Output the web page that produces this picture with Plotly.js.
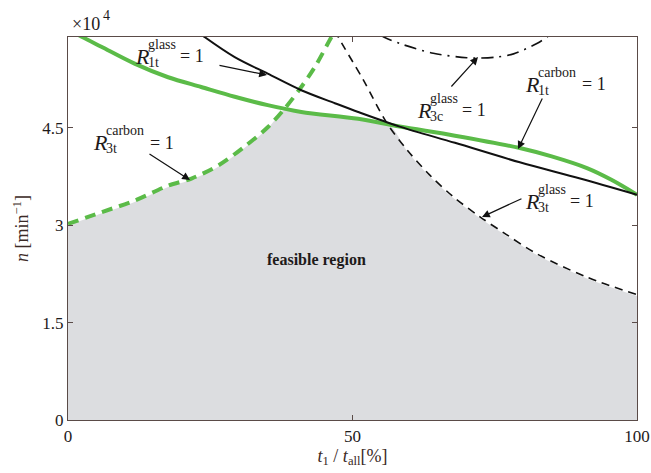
<!DOCTYPE html>
<html>
<head>
<meta charset="utf-8">
<script src="https://cdn.plot.ly/plotly-3.0.1.min.js"></script>
<style>html,body{margin:0;padding:0;background:#fff;}#chart{width:651px;height:473px;}</style>
</head>
<body>
<div id="chart"></div>
<script>
// ---- data (t1/tall in %, n in 1e4 min^-1) ----
const r1tCarbonT = [0, 2.5, 5.86, 11.7, 17.6, 23.4, 29.3, 35.1, 41.0, 51.0, 58.3, 68.0, 79.4, 85.0, 91.2, 95.5, 100];
const r1tCarbonN = [6.02, 5.9, 5.75, 5.49, 5.28, 5.13, 4.98, 4.85, 4.745, 4.64, 4.52, 4.38, 4.19, 4.06, 3.88, 3.70, 3.47];

const r1tGlassT = [22.5, 24.0, 29.3, 35.1, 41.0, 46.9, 51.0, 58.3, 68.0, 79.4, 90.0, 100];
const r1tGlassN = [6.0, 5.9, 5.59, 5.335, 5.08, 4.88, 4.745, 4.52, 4.27, 3.97, 3.72, 3.47];

const r3tCarbonT = [0, 5.86, 11.7, 17.6, 21.7, 26.4, 31.0, 35.1, 38.1, 41.0, 43.4, 46.3, 47.0];
const r3tCarbonN = [3.02, 3.2, 3.38, 3.61, 3.72, 3.92, 4.21, 4.51, 4.80, 5.13, 5.44, 5.9, 6.0];

const r3tGlassT = [47.0, 47.5, 51.9, 56.0, 59.6, 63.5, 67.7, 72.4, 77.0, 82.4, 91.2, 100];
const r3tGlassN = [6.0, 5.9, 5.24, 4.58, 4.16, 3.78, 3.44, 3.13, 2.86, 2.56, 2.20, 1.93];

const r3cGlassT = [55.0, 55.5, 58.3, 64.2, 70.1, 72.0, 75.3, 78.3, 82.4, 84.2, 84.6];
const r3cGlassN = [5.93, 5.9, 5.80, 5.65, 5.58, 5.575, 5.59, 5.64, 5.80, 5.9, 5.93];

const feasibleT = [0, 5.86, 11.7, 17.6, 21.7, 26.4, 31.0, 35.1, 38.1, 41.0, 46.0, 51.0, 56.5, 59.6, 63.5, 67.7, 72.4, 77.0, 82.4, 91.2, 100];
const feasibleN = [3.0, 3.18, 3.36, 3.59, 3.70, 3.90, 4.19, 4.49, 4.78, 4.73, 4.69, 4.62, 4.54, 4.14, 3.76, 3.42, 3.11, 2.84, 2.54, 2.18, 1.91];

const xTicks = [0, 50, 100];
const xTickText = ['0', '50', '100'];
const yTicks = [0, 1.5, 3, 4.5];
const yTickText = ['0', '1.5', '3', '4.5'];

// ---- styles ----
const FONT = 'Liberation Serif, Times New Roman, serif';
const GREEN = '#5bbb48';
const AXIS = '#5a4b48';
const TXT = '#1e1a1a';

const traces = [
  {x: feasibleT, y: feasibleN, mode: 'lines', fill: 'tozeroy', fillcolor: '#dcdde0',
   line: {width: 0, color: 'rgba(0,0,0,0)', shape: 'spline', smoothing: 0.8}, hoverinfo: 'skip'},
  {x: r3tCarbonT, y: r3tCarbonN, mode: 'lines', line: {color: GREEN, width: 4, dash: '11px,7px', shape: 'spline', smoothing: 0.9}},
  {x: r3tGlassT, y: r3tGlassN, mode: 'lines', line: {color: '#111', width: 1.6, dash: '8px,6px', shape: 'spline', smoothing: 0.9}},
  {x: r3cGlassT, y: r3cGlassN, mode: 'lines', line: {color: '#111', width: 1.6, dash: '12px,6px,2px,6px', shape: 'spline', smoothing: 0.9}},
  {x: r1tCarbonT, y: r1tCarbonN, mode: 'lines', line: {color: GREEN, width: 4, shape: 'spline', smoothing: 0.9}},
  {x: r1tGlassT, y: r1tGlassN, mode: 'lines', line: {color: '#111', width: 2, shape: 'spline', smoothing: 0.9}}
];

const annotations = [];
function rLabel(x, y, sup, sub, eqShift) {
  const base = {x: x, y: y, xref: 'x', yref: 'y', showarrow: false, xanchor: 'left', yanchor: 'middle',
    borderpad: 0, borderwidth: 0};
  annotations.push(Object.assign({}, base, {text: '<i>R</i>', font: {family: FONT, size: 22, color: TXT}}));
  annotations.push(Object.assign({}, base, {text: sup + '<br>' + sub, align: 'left', xshift: 13, yshift: 3,
    font: {family: FONT, size: 14, color: TXT}}));
  annotations.push(Object.assign({}, base, {text: '= 1', xshift: eqShift, yshift: 0, font: {family: FONT, size: 18, color: TXT}}));
}
function arrow(tx, ty, ax, ay) {
  annotations.push({x: tx, y: ty, ax: ax, ay: ay, xref: 'x', yref: 'y', axref: 'x', ayref: 'y',
    text: '', showarrow: true, arrowhead: 2, arrowsize: 1.3, arrowwidth: 1.2, arrowcolor: '#111', standoff: 0});
}

rLabel(11.78, 5.607, 'glass', '1t', 45);
arrow(34.97, 5.314, 26.36, 5.468);
rLabel(4.39, 4.274, 'carbon', '3t', 57);
arrow(21.44, 3.697, 14.06, 4.113);
rLabel(61.34, 4.775, 'glass', '3c', 45);
arrow(72.06, 5.591, 67.14, 5.114);
rLabel(80.32, 5.176, 'carbon', '1t', 57);
arrow(79.09, 4.174, 83.48, 4.975);
rLabel(80.32, 3.373, 'glass', '3t', 45);
arrow(72.76, 3.127, 79.96, 3.420);

annotations.push({x: 43.6, y: 2.465, xref: 'x', yref: 'y', showarrow: false, text: '<b>feasible region</b>',
  font: {family: FONT, size: 16, color: TXT}});
annotations.push({x: 0.006, y: 1.033, xref: 'paper', yref: 'paper', xanchor: 'left', yanchor: 'middle', showarrow: false,
  borderpad: 0, text: '×10', font: {family: FONT, size: 18, color: TXT}});
annotations.push({x: 0.059, y: 1.056, xref: 'paper', yref: 'paper', xanchor: 'left', yanchor: 'middle', showarrow: false,
  borderpad: 0, text: '4', font: {family: FONT, size: 14, color: TXT}});

const axisCommon = {
  showline: true, linecolor: AXIS, linewidth: 1.2, mirror: 'ticks', ticks: 'inside', ticklen: 5,
  tickcolor: AXIS, tickwidth: 1, showgrid: false, zeroline: false, fixedrange: true,
  tickfont: {family: FONT, size: 17, color: TXT}
};

const layout = {
  width: 651, height: 473,
  margin: {l: 68, r: 14, t: 37, b: 53},
  paper_bgcolor: '#fff', plot_bgcolor: '#fff',
  showlegend: false,
  xaxis: Object.assign({}, axisCommon, {range: [0, 100], tickvals: xTicks, ticktext: xTickText,
    title: {text: '<i>t</i><sub>1</sub> / <i>t</i><sub>all</sub>[%]', font: {family: FONT, size: 18, color: '#3b2a26'}, standoff: 2}}),
  yaxis: Object.assign({}, axisCommon, {range: [0, 5.9], tickvals: yTicks, ticktext: yTickText,
    title: {text: '<i>n</i> [min<sup>−1</sup>]', font: {family: FONT, size: 18, color: '#3b2a26'}, standoff: 8}}),
  annotations: annotations
};

Plotly.newPlot('chart', traces, layout, {staticPlot: true, displayModeBar: false});
</script>
</body>
</html>
